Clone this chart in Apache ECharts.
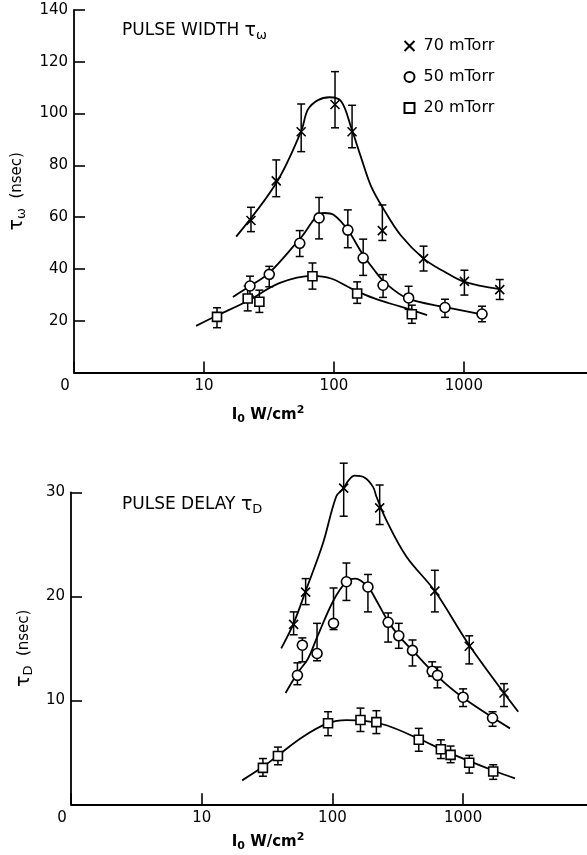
<!DOCTYPE html>
<html>
<head>
<meta charset="utf-8">
<script src="https://cdn.jsdelivr.net/npm/echarts/dist/echarts.min.js"></script>
<style>
  html, body { margin: 0; background: #fff; }
  #chart { width: 587px; height: 855px; }
</style>
</head>
<body>
<div id="chart"></div>
<script>
const font = "DejaVu Sans";

// x ticks (W/cm2), shown as 0, 10, 100, 1000
const xTicks = [1, 10, 100, 1000];

// --- pulse width (top) ---
const w70x = [23, 36, 56, 102, 138, 236, 490, 1010, 1890];
const w70y = [58.7, 74, 93, 103.5, 93, 54.8, 44, 35.2, 32];
const w70lo = [54.4, 67.9, 85.3, 94.5, 86.8, 51, 39.2, 29.9, 28.2];
const w70hi = [63.8, 82.1, 103.7, 116.2, 103.2, 64.7, 48.8, 39.5, 35.9];
const w70cx = [17.7, 36.2, 56, 63, 75.4, 92.5, 114, 136, 162, 193, 242, 328, 490, 716, 1010, 1890];
const w70cy = [52.5, 73.4, 93.2, 101.5, 105.2, 106.3, 104.7, 94.5, 83, 72, 63, 52.9, 44, 38.8, 35, 32.2];

const w50x = [22.6, 31.8, 54.6, 76.9, 128, 168, 239, 376, 716, 1380];
const w50y = [33.4, 37.9, 49.9, 59.7, 55, 44.2, 33.7, 28.8, 25.1, 22.6];
const w50lo = [29.5, 33.1, 44.8, 51.6, 48.2, 37.5, 29, 24.4, 21.3, 19.6];
const w50hi = [37.2, 41, 54.8, 67.6, 62.8, 51.5, 37.8, 33.3, 28.3, 25.6];
const w50cx = [16.7, 22.6, 31.8, 54.6, 84, 100, 128, 165, 205, 251, 369, 706, 1380];
const w50cy = [29.2, 33.4, 38.5, 51.5, 61.6, 60.8, 55, 46, 39.5, 34.4, 28.6, 25.3, 22.4];

const w20x = [12.6, 21.7, 26.7, 68.4, 151, 398];
const w20y = [21.5, 28.6, 27.3, 37.2, 30.5, 22.5];
const w20lo = [17.3, 23.8, 23.2, 32.2, 26.7, 19];
const w20hi = [25, 33.4, 31.8, 42.3, 35, 26];
const w20cx = [8.7, 12.6, 21.7, 38, 68.4, 95, 144, 205, 327, 522];
const w20cy = [18, 22, 27.6, 34.5, 37.3, 36.3, 31.8, 28.6, 25.4, 22.2];

// --- pulse delay (bottom) ---
const d70x = [50.5, 62.4, 122, 230, 608, 1114, 2055];
const d70y = [17.3, 20.4, 30.4, 28.5, 20.5, 15.2, 10.7];
const d70lo = [16.3, 19.2, 27.7, 26.9, 18.5, 13.5, 9.4];
const d70hi = [18.5, 21.7, 32.8, 30.7, 22.5, 16.2, 11.6];
const d70cx = [40.6, 50.5, 62.4, 84.7, 107, 122, 132, 148, 177, 205, 217, 259, 369, 608, 1114, 2640];
const d70cy = [15, 17.4, 20.5, 25.1, 29.6, 30.4, 31.1, 31.6, 31.4, 30.5, 29.6, 27.3, 23.8, 20.5, 15.3, 8.9];

const d50x = [54, 58.9, 76.3, 102, 128, 187, 267, 322, 410, 580, 637, 1000, 1680];
const d50y = [12.4, 15.3, 14.5, 17.4, 21.4, 20.9, 17.5, 16.2, 14.8, 12.8, 12.4, 10.3, 8.3];
const d50lo = [11.5, 13.7, 13.8, 16.8, 19.6, 18.5, 15.6, 15, 13.3, 12.3, 11.2, 9.4, 7.5];
const d50hi = [13.6, 16, 17.4, 20.8, 23.2, 22.1, 18.4, 17.4, 15.8, 13.7, 13.2, 11.1, 8.9];
const d50cx = [43.8, 54, 65, 76, 101, 128, 150, 187, 217, 267, 322, 410, 637, 1000, 2285];
const d50cy = [10.7, 12.6, 14, 16, 19.5, 21.4, 21.7, 20.9, 19.6, 17.6, 16.2, 14.8, 12.3, 10.25, 7.3];

const d20x = [29.4, 38.3, 92.6, 164, 217, 458, 676, 802, 1114, 1700];
const d20y = [3.5, 4.65, 7.8, 8.1, 7.9, 6.2, 5.3, 4.75, 4, 3.15];
const d20lo = [2.7, 3.8, 6.6, 7, 6.8, 5.1, 4.4, 4, 3, 2.4];
const d20hi = [4.4, 5.5, 8.9, 9.25, 9, 7.3, 6.2, 5.6, 4.7, 3.8];
const d20cx = [20.4, 29.4, 38.3, 59.6, 92.6, 128, 170, 259, 458, 802, 1700, 2495];
const d20cy = [2.3, 3.6, 4.7, 6.5, 7.8, 8.1, 8.05, 7.6, 6.3, 4.9, 3.25, 2.5];

const markX = "path://M0,0L10,10M10,0L0,10";

function pairs(xs, ys) {
  return xs.map((x, i) => [x, ys[i]]);
}

function curve(xs, ys, idx) {
  return {
    type: "line",
    xAxisIndex: idx,
    yAxisIndex: idx,
    data: pairs(xs, ys),
    smooth: 0.35,
    symbol: "none",
    clip: false,
    lineStyle: { color: "#000", width: 1.8 },
    z: 1,
    silent: true,
  };
}

function errorBar(params, api) {
  const top = api.coord([api.value(0), api.value(2)]);
  const bot = api.coord([api.value(0), api.value(1)]);
  const w = 4;
  const style = { stroke: "#000", lineWidth: 1.5 };
  return {
    type: "group",
    children: [
      { type: "line", shape: { x1: top[0], y1: top[1], x2: bot[0], y2: bot[1] }, style },
      { type: "line", shape: { x1: top[0] - w, y1: top[1], x2: top[0] + w, y2: top[1] }, style },
      { type: "line", shape: { x1: bot[0] - w, y1: bot[1], x2: bot[0] + w, y2: bot[1] }, style },
    ],
  };
}

function errs(xs, lo, hi, idx) {
  return {
    type: "custom",
    xAxisIndex: idx,
    yAxisIndex: idx,
    data: xs.map((x, i) => [x, lo[i], hi[i]]),
    encode: { x: 0, y: [1, 2] },
    renderItem: errorBar,
    clip: false,
    z: 2,
    silent: true,
  };
}

function marks(name, xs, ys, idx, symbol, size) {
  return {
    name,
    type: "scatter",
    xAxisIndex: idx,
    yAxisIndex: idx,
    data: pairs(xs, ys),
    symbol,
    symbolSize: size,
    clip: false,
    itemStyle: {
      color: symbol === markX ? "none" : "#fff",
      borderColor: "#000",
      borderWidth: 1.6,
      opacity: 1,
    },
    z: 3,
    silent: true,
  };
}

function xAxis(idx) {
  return {
    type: "log",
    gridIndex: idx,
    logBase: 10,
    min: 1,
    max: 8870,
    axisLine: { lineStyle: { color: "#000", width: 1.8 } },
    axisTick: { inside: true, length: 11, lineStyle: { color: "#000", width: 1.6 } },
    minorTick: { show: false },
    splitLine: { show: false },
    axisLabel: {
      color: "#000",
      fontFamily: font,
      fontSize: 15,
      margin: 6,
      showMaxLabel: false,
      formatter: (v) => {
        const r = Math.round(v);
        if (r === 1) return "{z|0}";
        return xTicks.includes(r) ? String(r) : "";
      },
      rich: { z: { fontFamily: font, fontSize: 15, color: "#000", padding: [0, 18, 0, 0] } },
    },
  };
}

const subRich = {
  t: { fontFamily: font, fontSize: 19, fontWeight: "normal", color: "#000", lineHeight: 22 },
  s: { fontFamily: font, fontSize: 13, fontWeight: "normal", color: "#000", lineHeight: 13, verticalAlign: "bottom" },
  n: { fontFamily: font, fontSize: 15, fontWeight: "normal", color: "#000", lineHeight: 22 },
};

function yAxis(idx, max, interval, name) {
  return {
    type: "value",
    gridIndex: idx,
    min: 0,
    max,
    interval,
    name,
    nameLocation: "middle",
    nameRotate: 90,
    nameGap: 32,
    nameTextStyle: { rich: subRich },
    axisLine: { show: true, lineStyle: { color: "#000", width: 1.8 } },
    axisTick: { show: true, inside: true, length: 11, lineStyle: { color: "#000", width: 1.6 } },
    splitLine: { show: false },
    axisLabel: {
      color: "#000",
      fontFamily: font,
      fontSize: 15,
      margin: 6,
      formatter: (v) => (v === 0 ? "" : String(v)),
    },
  };
}

const xNameRich = {
  m: { fontFamily: font, fontSize: 15, fontWeight: "bold", color: "#000", lineHeight: 20 },
  s: { fontFamily: font, fontSize: 11, fontWeight: "bold", color: "#000", lineHeight: 11, verticalAlign: "bottom" },
  p: { fontFamily: font, fontSize: 11, fontWeight: "bold", color: "#000", lineHeight: 11, verticalAlign: "top" },
};
const titleRich = {
  m: { fontFamily: font, fontSize: 17, fontWeight: "normal", color: "#000", lineHeight: 22 },
  t: subRich.t,
  s: subRich.s,
};

const chart = echarts.init(document.getElementById("chart"));

chart.setOption({
  animation: false,
  backgroundColor: "#fff",
  title: [
    { text: "{m|PULSE WIDTH }{t|τ}{s|ω}", left: 117, top: 15, textStyle: { fontWeight: "normal", rich: titleRich } },
    { text: "{m|PULSE DELAY }{t|τ}{s|D}", left: 117, top: 489, textStyle: { fontWeight: "normal", rich: titleRich } },
    { text: "{m|I}{s|0}{m| W/cm}{p|2}", left: 263, top: 400, textAlign: "center", textStyle: { rich: xNameRich } },
    { text: "{m|I}{s|0}{m| W/cm}{p|2}", left: 263, top: 827, textAlign: "center", textStyle: { rich: xNameRich } },
  ],
  legend: {
    orient: "vertical",
    left: 397,
    top: 31,
    itemWidth: 10,
    itemHeight: 10,
    itemGap: 11,
    selectedMode: false,
    data: ["70 mTorr", "50 mTorr", "20 mTorr"],
    textStyle: { fontFamily: font, fontSize: 16, color: "#000", lineHeight: 20, padding: [0, 0, 0, 4] },
  },
  grid: [
    { left: 71, right: 0, top: 10, height: 362.5 },
    { left: 71, right: 0, top: 492.3, height: 312 },
  ],
  xAxis: [xAxis(0), xAxis(1)],
  yAxis: [
    yAxis(0, 140, 20, "{t|τ}{s|ω}{n|  (nsec)}"),
    yAxis(1, 30, 10, "{t|τ}{s|D}{n|  (nsec)}"),
  ],
  series: [
    curve(w70cx, w70cy, 0),
    curve(w50cx, w50cy, 0),
    curve(w20cx, w20cy, 0),
    errs(w70x, w70lo, w70hi, 0),
    errs(w50x, w50lo, w50hi, 0),
    errs(w20x, w20lo, w20hi, 0),
    marks("70 mTorr", w70x, w70y, 0, markX, 9),
    marks("50 mTorr", w50x, w50y, 0, "circle", 10),
    marks("20 mTorr", w20x, w20y, 0, "rect", 9),

    curve(d70cx, d70cy, 1),
    curve(d50cx, d50cy, 1),
    curve(d20cx, d20cy, 1),
    errs(d70x, d70lo, d70hi, 1),
    errs(d50x, d50lo, d50hi, 1),
    errs(d20x, d20lo, d20hi, 1),
    marks("70 mTorr", d70x, d70y, 1, markX, 9),
    marks("50 mTorr", d50x, d50y, 1, "circle", 10),
    marks("20 mTorr", d20x, d20y, 1, "rect", 9),
  ],
});
</script>
</body>
</html>
